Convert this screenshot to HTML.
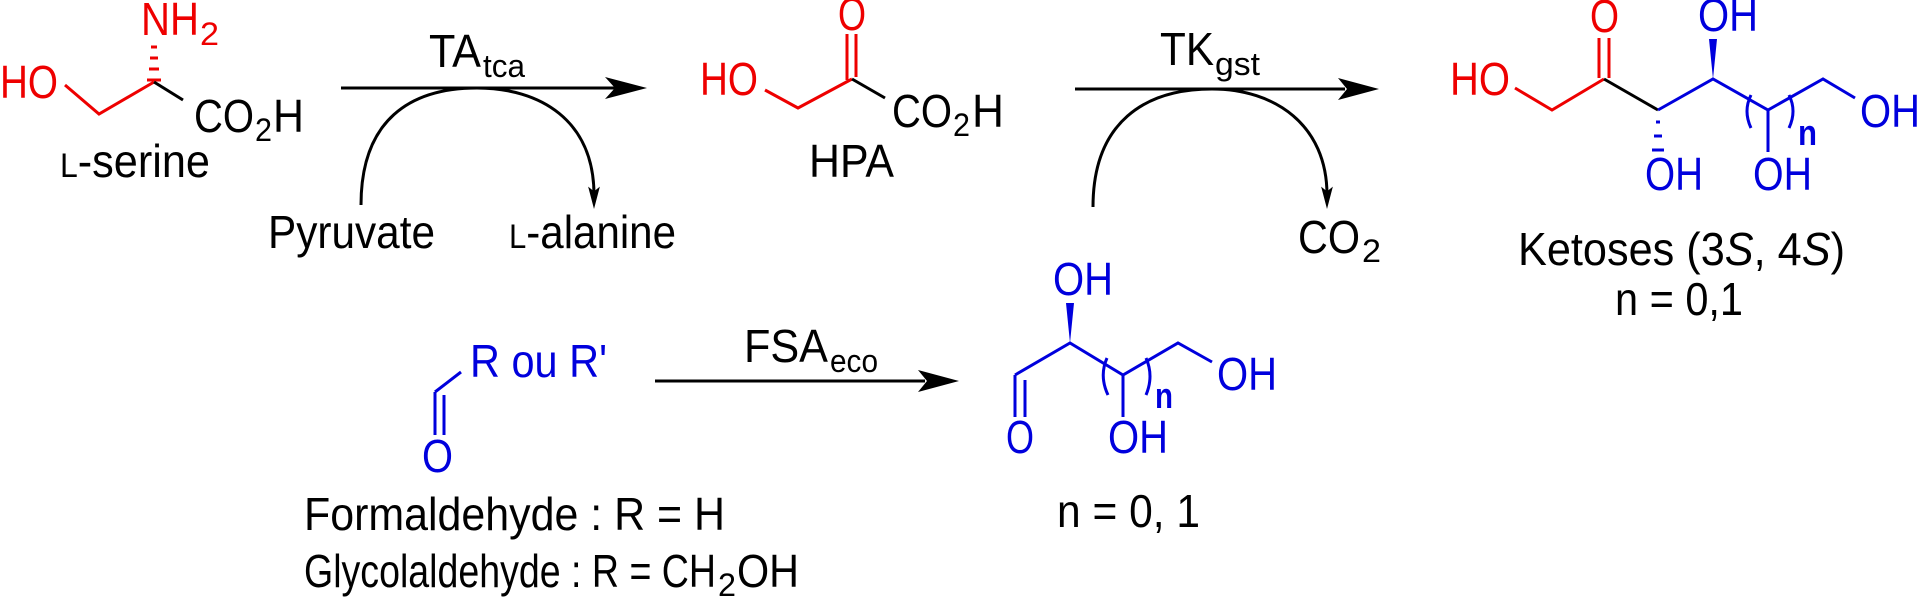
<!DOCTYPE html>
<html><head><meta charset="utf-8"><style>
html,body{margin:0;padding:0;background:#fff;}
svg{display:block;}
text{font-family:"Liberation Sans",Arial,sans-serif;font-size:46px;}
.r{fill:#ee0000}.b{fill:#0000dd}.k{fill:#000}
.lr{stroke:#ee0000;stroke-width:3;fill:none}
.lb{stroke:#0000dd;stroke-width:3;fill:none}
.lk{stroke:#000;stroke-width:3;fill:none}
.s{font-size:32px}
</style></head><body>
<svg width="1920" height="599" viewBox="0 0 1920 599" xmlns="http://www.w3.org/2000/svg">
<!-- L-serine -->
<text class="r" x="141" y="35" textLength="58" lengthAdjust="spacingAndGlyphs">NH</text>
<text class="r s" x="200" y="45" textLength="19" lengthAdjust="spacingAndGlyphs">2</text>
<g stroke="#ee0000" stroke-width="3">
<line x1="147" y1="80" x2="161" y2="80"/><line x1="149" y1="69" x2="159" y2="69"/><line x1="150" y1="58" x2="158" y2="58"/><line x1="151" y1="47" x2="157" y2="47"/>
</g>
<text class="r" x="0" y="98" textLength="58" lengthAdjust="spacingAndGlyphs">HO</text>
<polyline class="lr" points="65,85 99,114 154,82"/>
<line class="lk" x1="154" y1="82" x2="183" y2="100"/>
<text class="k" x="194" y="132" textLength="60" lengthAdjust="spacingAndGlyphs">CO</text>
<text class="k s" x="255" y="141" textLength="17" lengthAdjust="spacingAndGlyphs">2</text>
<text class="k" x="273" y="132" textLength="31" lengthAdjust="spacingAndGlyphs">H</text>
<text class="k" x="60" y="177" textLength="150" lengthAdjust="spacingAndGlyphs"><tspan style="font-size:34px">L</tspan>-serine</text>

<!-- arrow 1 -->
<line class="lk" x1="341" y1="88" x2="615" y2="88"/>
<polygon points="647,88 605,77 615,88 605,99" fill="#000"/>
<text class="k" x="429" y="67" textLength="52" lengthAdjust="spacingAndGlyphs">TA</text>
<text class="k s" x="483" y="77" textLength="42" lengthAdjust="spacingAndGlyphs">tca</text>
<path class="lk" d="M361,205 C361,120 410,88 477,88 C540,88 594,120 594,195"/>
<polygon points="594,207 589,188 594,192 599,188" fill="#000" stroke="#000" stroke-width="1"/>
<text class="k" x="268" y="248" textLength="167" lengthAdjust="spacingAndGlyphs">Pyruvate</text>
<text class="k" x="509" y="248" textLength="167" lengthAdjust="spacingAndGlyphs"><tspan style="font-size:34px">L</tspan>-alanine</text>

<!-- HPA -->
<text class="r" x="838" y="30" textLength="28" lengthAdjust="spacingAndGlyphs">O</text>
<line class="lr" x1="847" y1="34" x2="847" y2="80"/><line class="lr" x1="856" y1="34" x2="856" y2="77"/>
<text class="r" x="700" y="95" textLength="58" lengthAdjust="spacingAndGlyphs">HO</text>
<polyline class="lr" points="765,90 798,108 852,79"/>
<line class="lk" x1="852" y1="79" x2="885" y2="98"/>
<text class="k" x="892" y="127" textLength="60" lengthAdjust="spacingAndGlyphs">CO</text>
<text class="k s" x="953" y="136" textLength="17" lengthAdjust="spacingAndGlyphs">2</text>
<text class="k" x="972" y="127" textLength="32" lengthAdjust="spacingAndGlyphs">H</text>
<text class="k" x="809" y="177" textLength="85" lengthAdjust="spacingAndGlyphs">HPA</text>

<!-- arrow 2 -->
<line class="lk" x1="1075" y1="89" x2="1345" y2="89"/>
<polygon points="1379,89 1338,78 1347,89 1338,100" fill="#000"/>
<text class="k" x="1160" y="65" textLength="54" lengthAdjust="spacingAndGlyphs">TK</text>
<text class="k s" x="1215" y="75" textLength="45" lengthAdjust="spacingAndGlyphs">gst</text>
<path class="lk" d="M1093,207 C1093,122 1145,89 1212,89 C1275,89 1327,125 1327,195"/>
<polygon points="1327,207 1322,188 1327,192 1332,188" fill="#000" stroke="#000" stroke-width="1"/>
<text class="k" x="1298" y="253" textLength="62" lengthAdjust="spacingAndGlyphs">CO</text>
<text class="k s" x="1362" y="262" textLength="19" lengthAdjust="spacingAndGlyphs">2</text>

<!-- Ketoses -->
<text class="r" x="1590" y="32" textLength="29" lengthAdjust="spacingAndGlyphs">O</text>
<line class="lr" x1="1599" y1="38" x2="1599" y2="78"/><line class="lr" x1="1609" y1="38" x2="1609" y2="78"/>
<text class="r" x="1450" y="95" textLength="60" lengthAdjust="spacingAndGlyphs">HO</text>
<polyline class="lr" points="1515,88 1552,110 1604,79"/>
<line class="lk" x1="1604" y1="79" x2="1658" y2="110"/>
<g stroke="#0000dd" stroke-width="3">
<line x1="1656" y1="122" x2="1660" y2="122"/><line x1="1654" y1="136" x2="1662" y2="136"/><line x1="1652" y1="150" x2="1664" y2="150"/>
</g>
<text class="b" x="1645" y="190" textLength="58" lengthAdjust="spacingAndGlyphs">OH</text>
<polyline class="lb" points="1658,110 1713,79 1768,110 1823,79 1855,98"/>
<polygon points="1713,79 1709,39 1717,39" fill="#0000dd"/>
<text class="b" x="1698" y="31" textLength="60" lengthAdjust="spacingAndGlyphs">OH</text>
<line class="lb" x1="1768" y1="110" x2="1768" y2="152"/>
<path class="lb" d="M1751,95 Q1743,111 1751,128"/>
<path class="lb" d="M1789,95 Q1797,111 1789,128"/>
<text class="b" x="1798" y="145" style="font-size:36px;font-weight:bold" textLength="19" lengthAdjust="spacingAndGlyphs">n</text>
<text class="b" x="1753" y="190" textLength="59" lengthAdjust="spacingAndGlyphs">OH</text>
<text class="b" x="1860" y="127" textLength="60" lengthAdjust="spacingAndGlyphs">OH</text>
<text class="k" x="1518" y="265" textLength="327" lengthAdjust="spacingAndGlyphs">Ketoses (3<tspan font-style="italic">S</tspan>, 4<tspan font-style="italic">S</tspan>)</text>
<text class="k" x="1615" y="315" textLength="128" lengthAdjust="spacingAndGlyphs">n = 0,1</text>

<!-- aldehyde -->
<text class="b" x="470" y="377" textLength="137" lengthAdjust="spacingAndGlyphs">R ou R'</text>
<line class="lb" x1="435" y1="392" x2="461" y2="372"/>
<line class="lb" x1="435" y1="392" x2="435" y2="435"/><line class="lb" x1="444" y1="395" x2="444" y2="435"/>
<text class="b" x="422" y="472" textLength="31" lengthAdjust="spacingAndGlyphs">O</text>
<text class="k" x="304" y="530" textLength="421" lengthAdjust="spacingAndGlyphs">Formaldehyde : R = H</text>
<text class="k" x="304" y="587" textLength="412" lengthAdjust="spacingAndGlyphs">Glycolaldehyde : R = CH</text>
<text class="k s" x="718" y="596" textLength="18" lengthAdjust="spacingAndGlyphs">2</text>
<text class="k" x="737" y="587" textLength="62" lengthAdjust="spacingAndGlyphs">OH</text>

<!-- arrow 3 -->
<line class="lk" x1="655" y1="381" x2="925" y2="381"/>
<polygon points="959,381 918,370 927,381 918,392" fill="#000"/>
<text class="k" x="744" y="362" textLength="84" lengthAdjust="spacingAndGlyphs">FSA</text>
<text class="k s" x="830" y="372" textLength="48" lengthAdjust="spacingAndGlyphs">eco</text>

<!-- product -->
<line class="lb" x1="1015" y1="375" x2="1015" y2="417"/><line class="lb" x1="1025" y1="380" x2="1025" y2="417"/>
<text class="b" x="1006" y="453" textLength="28" lengthAdjust="spacingAndGlyphs">O</text>
<polyline class="lb" points="1015,375 1070,343 1123,375 1178,343 1212,362"/>
<polygon points="1070,343 1066,303 1074,303" fill="#0000dd"/>
<text class="b" x="1053" y="295" textLength="60" lengthAdjust="spacingAndGlyphs">OH</text>
<line class="lb" x1="1123" y1="375" x2="1123" y2="417"/>
<path class="lb" d="M1107,358 Q1099,376 1108,395"/>
<path class="lb" d="M1146,358 Q1154,376 1146,395"/>
<text class="b" x="1155" y="408" style="font-size:36px;font-weight:bold" textLength="18" lengthAdjust="spacingAndGlyphs">n</text>
<text class="b" x="1108" y="453" textLength="60" lengthAdjust="spacingAndGlyphs">OH</text>
<text class="b" x="1217" y="390" textLength="60" lengthAdjust="spacingAndGlyphs">OH</text>
<text class="k" x="1057" y="527" textLength="143" lengthAdjust="spacingAndGlyphs">n = 0, 1</text>
</svg>
</body></html>
